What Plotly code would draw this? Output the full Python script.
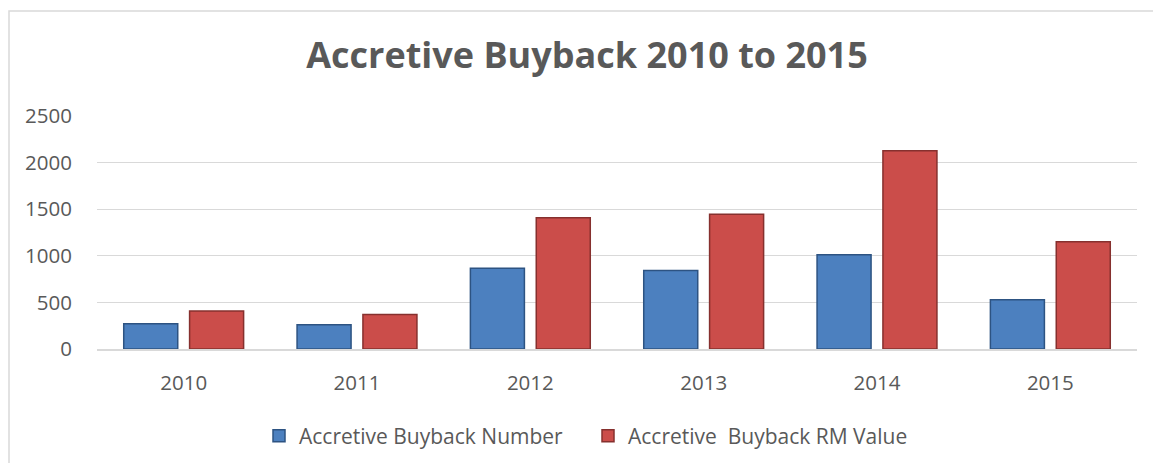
import plotly.graph_objects as go

years = ["2010", "2011", "2012", "2013", "2014", "2015"]
buyback_number = [271, 260, 867, 842, 1010, 528]
buyback_value = [407, 370, 1409, 1445, 2127, 1152]
series_names = ["Accretive Buyback Number", "Accretive  Buyback RM Value"]
y_ticks = [0, 500, 1000, 1500, 2000, 2500]

W, H = 1153, 463
L, R, T, B = 97, 16, 116, 114

fig = go.Figure()
fig.add_trace(go.Bar(
    x=years, y=buyback_number, name=series_names[0],
    marker=dict(color="#4C80BF", line=dict(color="#2D5382", width=1.5)),
))
fig.add_trace(go.Bar(
    x=years, y=buyback_value, name=series_names[1],
    marker=dict(color="#CB4D4A", line=dict(color="#86302E", width=1.5)),
))

font_family = "Open Sans"
gray = "#595959"

fig.update_layout(
    width=W, height=H,
    margin=dict(l=L, r=R, t=T, b=B),
    paper_bgcolor="white", plot_bgcolor="white",
    barmode="group", bargap=0.24, bargroupgap=0.18,
    title=dict(text="<b>Accretive Buyback 2010 to 2015</b>",
               x=587 / W, xref="container", xanchor="center",
               y=1 - 55 / H, yref="container", yanchor="middle",
               font=dict(family=font_family, size=36, color=gray)),
    font=dict(family=font_family, color=gray, size=20),
    legend=dict(orientation="h", x=(273 - 14) / W, xref="container", xanchor="left",
                y=1 - 436 / H, yref="container", yanchor="middle",
                font=dict(family=font_family, size=21, color=gray),
                itemwidth=30, entrywidth=284, traceorder="normal"),
    showlegend=True,
    shapes=[dict(type="rect", xref="paper", yref="paper",
                 x0=(9 - L) / (W - L - R), x1=(W + 20 - L) / (W - L - R),
                 y0=-(B + 20) / (H - T - B), y1=(H - 11 - B) / (H - T - B),
                 line=dict(color="#D9D9D9", width=1.5), fillcolor="rgba(0,0,0,0)",
                 layer="below")],
)
fig.update_xaxes(showgrid=False, showline=True, linecolor="#D9D9D9", linewidth=2,
                 ticks="outside", ticklen=14, tickcolor="rgba(0,0,0,0)",
                 tickfont=dict(size=20.5, color=gray))
fig.update_yaxes(range=[0, 2500], tickvals=y_ticks, showgrid=True,
                 gridcolor="#D9D9D9", gridwidth=1, zeroline=False,
                 ticks="outside", ticklen=20, tickcolor="rgba(0,0,0,0)",
                 tickfont=dict(size=20.5, color=gray))

fig.write_html("out.html", config={"displayModeBar": False},
               post_script="document.body.style.margin='0';document.body.style.overflow='hidden';")
